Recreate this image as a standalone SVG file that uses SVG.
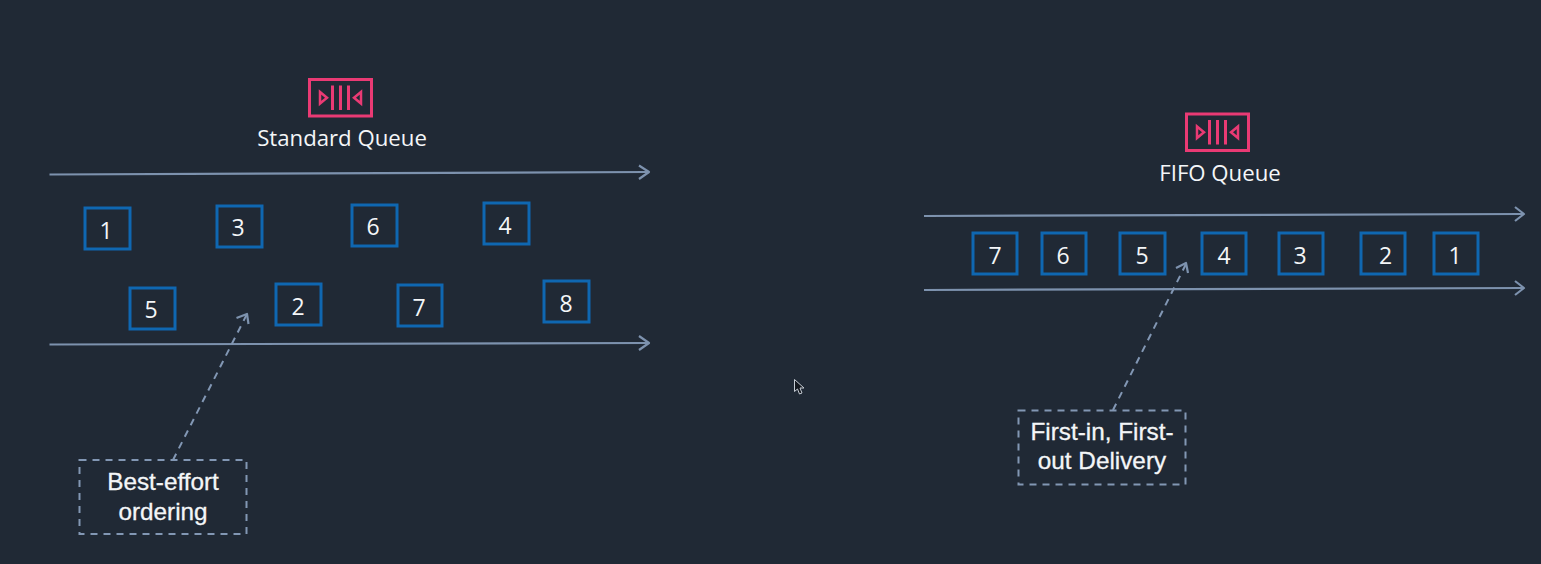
<svg xmlns="http://www.w3.org/2000/svg" width="1541" height="564" viewBox="0 0 1541 564">
<style>
.box{fill:none;stroke:#0f67b1;stroke-width:3}
.n{font:23px "Open Sans","Noto Sans",sans-serif;fill:#f4f6f8;text-anchor:middle}
.t{font:22.200px "Open Sans","Noto Sans",sans-serif;fill:#f4f6f8;text-anchor:middle}
.l{font:24.300px "Liberation Sans",Arial,sans-serif;fill:#f4f6f8;text-anchor:middle;stroke:#f4f6f8;stroke-width:.3}
.ln{fill:none;stroke:#7d92ae;stroke-width:2.200}
.ah{fill:none;stroke:#7d92ae;stroke-width:2.200;stroke-linejoin:round}
.d{fill:none;stroke:#8297b4;stroke-width:2;stroke-dasharray:7 6}
.q{fill:none;stroke:#ea3a74;stroke-width:3}
</style>
<defs>
<g id="qi">
<rect x="1" y="1" width="62" height="36.500" class="q"/>
<path d="M11.500 13.500V25L18.500 19.200ZM52.500 13.500V25L45.500 19.200Z" class="q" style="stroke-width:2.500"/>
<path d="M24 7V31.500M32 7V31.500M40 7V31.500" class="q"/>
</g>
</defs>
<rect width="1541" height="564" fill="#202935"/>
<g id="connectors">
<path class="ln" d="M49.500 174.500L648 172"/><path class="ah" d="M639 165.500L649 172L639 179"/>
<path class="ln" d="M49.500 344.500L648 343"/><path class="ah" d="M639 336L649 343L639 350"/>
<path class="ln" d="M924 216L1523 214"/><path class="ah" d="M1515 207L1524 214L1515 221"/>
<path class="ln" d="M924 290L1523 288"/><path class="ah" d="M1515 281L1524 288L1515 295"/>
<path class="d" d="M173 460L247 314"/><path class="ah" d="M236.500 318L247 314L248.500 324"/>
<path class="d" d="M1113 410L1186 264"/><path class="ah" d="M1176 268L1186 263L1188 273"/>
</g>
<g id="standard-queue"><use href="#qi" x="308.500" y="78.500"/><text class="t" x="342" y="146">Standard Queue</text></g>
<g id="fifo-queue"><use href="#qi" x="1185.500" y="113"/><text class="t" x="1220" y="181">FIFO Queue</text></g>
<g id="s1"><rect class="box" x="85" y="208" width="45" height="41"/><text class="n" x="106" y="239">1</text></g>
<g id="s3"><rect class="box" x="217" y="206" width="45" height="41"/><text class="n" x="238" y="236">3</text></g>
<g id="s6"><rect class="box" x="352" y="205" width="45" height="41"/><text class="n" x="373" y="235">6</text></g>
<g id="s4"><rect class="box" x="484" y="203" width="45" height="41"/><text class="n" x="505" y="234">4</text></g>
<g id="s5"><rect class="box" x="130" y="288" width="45" height="41"/><text class="n" x="151" y="318">5</text></g>
<g id="s2"><rect class="box" x="276" y="284" width="45" height="41"/><text class="n" x="298" y="315">2</text></g>
<g id="s7"><rect class="box" x="398" y="285" width="44" height="41"/><text class="n" x="419" y="316">7</text></g>
<g id="s8"><rect class="box" x="544" y="281" width="45" height="41"/><text class="n" x="566" y="312">8</text></g>
<g id="f7"><rect class="box" x="973" y="233" width="44" height="41"/><text class="n" x="995" y="264">7</text></g>
<g id="f6"><rect class="box" x="1042" y="233" width="44" height="41"/><text class="n" x="1063" y="264">6</text></g>
<g id="f5"><rect class="box" x="1120" y="233" width="45" height="41"/><text class="n" x="1142" y="264">5</text></g>
<g id="f4"><rect class="box" x="1202" y="233" width="44" height="41"/><text class="n" x="1224" y="264">4</text></g>
<g id="f3"><rect class="box" x="1279" y="233" width="44" height="41"/><text class="n" x="1300" y="264">3</text></g>
<g id="f2"><rect class="box" x="1361" y="233" width="44" height="41"/><text class="n" x="1385.500" y="264">2</text></g>
<g id="f1"><rect class="box" x="1434" y="233" width="44" height="41"/><text class="n" x="1455" y="264">1</text></g>
<g id="note-best"><rect class="d" x="79.500" y="460" width="167" height="74"/><text class="l" x="163" y="490">Best-effort</text><text class="l" x="163" y="520">ordering</text></g>
<g id="note-fifo"><rect class="d" x="1018.500" y="410.500" width="167" height="74"/><text class="l" x="1102" y="440">First-in, First-</text><text class="l" x="1102" y="469">out Delivery</text></g>
<path id="cursor" d="M794.500 379.500V391.500L797.500 389L799.500 394L802 393L800 388L804 388Z" fill="#14181f" stroke="#c6ccd4" stroke-width="1"/>
</svg>
